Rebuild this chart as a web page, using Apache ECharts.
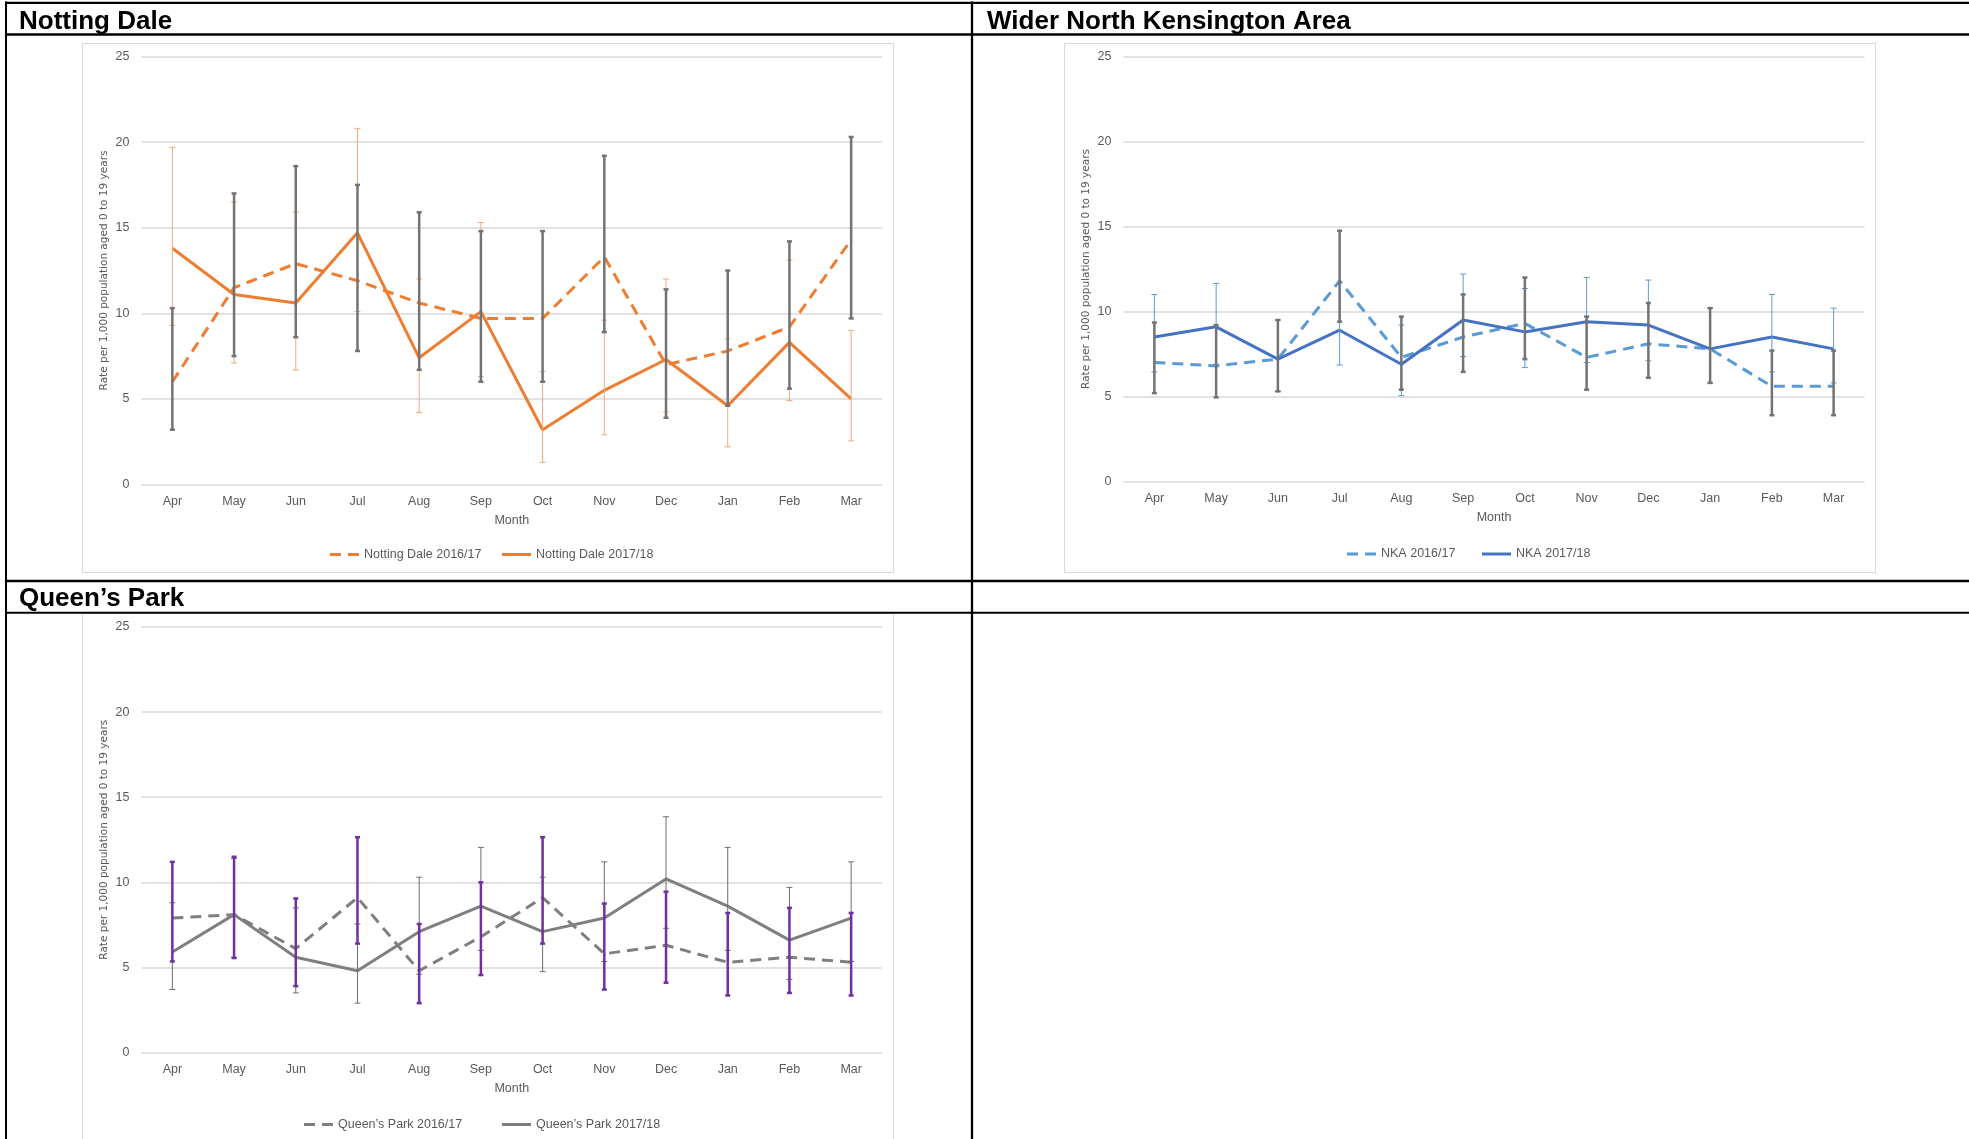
<!DOCTYPE html>
<html>
<head>
<meta charset="utf-8">
<script src="https://cdn.jsdelivr.net/npm/echarts@6/dist/echarts.min.js"></script>
<style>
html,body{margin:0;padding:0;background:#fff;}
#c{width:1969px;height:1139px;}
</style>
</head>
<body>
<div id="c"></div>
<script>
// ---------- DATA ----------
const months = ['Apr','May','Jun','Jul','Aug','Sep','Oct','Nov','Dec','Jan','Feb','Mar'];
const yTicks = [0, 5, 10, 15, 20, 25];

// Notting Dale
const nd1617     = [6.0, 11.5, 12.9, 11.9, 10.6, 9.7, 9.7, 13.3, 7.0, 7.8, 9.2, 14.3];
const nd1617Low  = [3.2, 7.5, 8.6, 7.8, 6.7, 6.0, 6.0, 8.9, 3.9, 4.6, 5.6, 9.7];
const nd1617High = [10.3, 17.0, 18.6, 17.5, 15.9, 14.8, 14.8, 19.2, 11.4, 12.5, 14.2, 20.3];
const nd1718     = [13.8, 11.1, 10.6, 14.7, 7.4, 10.1, 3.2, 5.5, 7.3, 4.6, 8.3, 5.0];
const nd1718Low  = [9.3, 7.1, 6.7, 10.1, 4.2, 6.3, 1.3, 2.9, 4.25, 2.2, 4.9, 2.55];
const nd1718High = [19.7, 16.5, 15.9, 20.8, 12.0, 15.3, 6.6, 9.6, 12.0, 8.5, 13.1, 9.0];

// Wider North Kensington Area
const nka1617     = [7.0, 6.8, 7.2, 11.8, 7.3, 8.5, 9.3, 7.3, 8.1, 7.8, 5.6, 5.6];
const nka1617Low  = [5.2, 4.95, 5.3, 9.4, 5.4, 6.45, 7.2, 5.4, 6.1, 5.8, 3.9, 3.9];
const nka1617High = [9.35, 9.2, 9.5, 14.75, 9.7, 11.0, 12.0, 9.7, 10.5, 10.2, 7.7, 7.7];
const nka1718     = [8.5, 9.1, 7.2, 8.9, 6.9, 9.5, 8.8, 9.4, 9.2, 7.8, 8.5, 7.8];
const nka1718Low  = [6.45, 6.9, 5.3, 6.85, 5.05, 7.35, 6.7, 7.0, 7.1, 5.8, 6.45, 5.8];
const nka1718High = [11.0, 11.65, 9.5, 11.7, 9.2, 12.2, 11.35, 12.0, 11.85, 10.2, 11.0, 10.2];

// Queen's Park
const qp1617     = [7.9, 8.1, 6.1, 9.1, 4.8, 6.8, 9.1, 5.8, 6.3, 5.3, 5.6, 5.3];
const qp1617Low  = [5.35, 5.55, 3.9, 6.4, 2.9, 4.55, 6.4, 3.7, 4.1, 3.35, 3.5, 3.35];
const qp1617High = [11.2, 11.5, 9.05, 12.65, 7.55, 10.0, 12.65, 8.75, 9.45, 8.2, 8.5, 8.2];
const qp1718     = [5.9, 8.1, 5.6, 4.8, 7.1, 8.6, 7.1, 7.9, 10.2, 8.6, 6.6, 7.9];
const qp1718Low  = [3.7, 5.6, 3.5, 2.9, 4.6, 6.0, 4.75, 5.35, 7.3, 6.0, 4.3, 5.35];
const qp1718High = [8.8, 11.4, 8.5, 7.55, 10.3, 12.05, 10.3, 11.2, 13.85, 12.05, 9.7, 11.2];

const panelTitles = ['Notting Dale', 'Wider North Kensington Area', 'Queen\u2019s Park'];
const seriesNames = [
  ['Notting Dale 2016/17', 'Notting Dale 2017/18'],
  ['NKA 2016/17', 'NKA 2017/18'],
  ['Queen\u2019s Park 2016/17', 'Queen\u2019s Park 2017/18']
];
const xName = 'Month';
const yName = 'Rate per 1,000 population aged 0 to 19 years';

// ---------- STYLE / LAYOUT ----------
const FONT = '"Liberation Sans", Arial, sans-serif';
const TXT = '#595959';
const DASH = [11, 7];
const ICON_DASH = 'path://M0,0h11v3h-11z M18,0h11v3h-11z';
const ICON_SOLID = 'path://M0,0h29v3h-29z';

const grids = [
  {left: 141.5, top: 56.5, width: 740.5, height: 428},
  {left: 1123.5, top: 56.5, width: 741, height: 425},
  {left: 141.5, top: 627, width: 740.5, height: 425.5}
];

function xAxis(gi) {
  return {
    type: 'category', gridIndex: gi, data: months, boundaryGap: true,
    axisLine: {show: false}, axisTick: {show: false}, splitLine: {show: false},
    axisLabel: {color: TXT, fontSize: 12.5, fontFamily: FONT, margin: 11},
    name: xName, nameLocation: 'middle', nameGap: 30,
    nameTextStyle: {color: TXT, fontSize: 12.5, fontFamily: FONT}
  };
}
function yAxis(gi) {
  return {
    type: 'value', gridIndex: gi, min: yTicks[0], max: yTicks[yTicks.length - 1], interval: yTicks[1] - yTicks[0],
    axisLine: {show: false}, axisTick: {show: false},
    splitLine: {lineStyle: {color: '#D9D9D9', width: 1.5}},
    axisLabel: {color: TXT, fontSize: 12.5, fontFamily: FONT, margin: 12},
    name: yName, nameLocation: 'middle', nameGap: 31.5,
    nameTextStyle: {color: TXT, fontSize: 10.5, fontFamily: '"DejaVu Sans", sans-serif'}
  };
}

function lineSeries(name, gi, data, color, dashed) {
  return {
    type: 'line', name: name, xAxisIndex: gi, yAxisIndex: gi, data: data,
    symbol: 'none', showSymbol: false, silent: true, z: 2,
    lineStyle: {color: color, width: 3, type: dashed ? DASH : 'solid'},
    itemStyle: {color: color}
  };
}

function errSeries(gi, low, high, color, width, capHalf, z) {
  return {
    type: 'custom', xAxisIndex: gi, yAxisIndex: gi, silent: true, z: z,
    data: low.map((l, i) => [i, l, high[i]]),
    encode: {x: 0, y: [1, 2]},
    renderItem: function (params, api) {
      const i = api.value(0);
      const p1 = api.coord([i, api.value(1)]);
      const p2 = api.coord([i, api.value(2)]);
      const st = {stroke: color, lineWidth: width, fill: null};
      return {
        type: 'group', children: [
          {type: 'line', shape: {x1: p1[0], y1: p1[1], x2: p2[0], y2: p2[1]}, style: st},
          {type: 'line', shape: {x1: p1[0] - capHalf, y1: p1[1], x2: p1[0] + capHalf, y2: p1[1]}, style: st},
          {type: 'line', shape: {x1: p2[0] - capHalf, y1: p2[1], x2: p2[0] + capHalf, y2: p2[1]}, style: st}
        ]
      };
    }
  };
}

function legendItem(name, left, cy, dashed) {
  return {
    data: [{name: name, icon: dashed ? ICON_DASH : ICON_SOLID}],
    left: left, top: cy - 5, padding: 0,
    itemWidth: 29, itemHeight: 3, selectedMode: false,
    itemStyle: {borderWidth: 0},
    textStyle: {color: TXT, fontSize: 12.5, fontFamily: FONT}
  };
}

const series = [
  // Notting Dale
  lineSeries(seriesNames[0][0], 0, nd1617, '#ED7D31', true),
  lineSeries(seriesNames[0][1], 0, nd1718, '#ED7D31', false),
  errSeries(0, nd1617Low, nd1617High, '#737373', 2.5, 2.5, 5),
  errSeries(0, nd1718Low, nd1718High, '#F3A879', 1, 3, 4),
  // NKA
  lineSeries(seriesNames[1][0], 1, nka1617, '#5B9BD5', true),
  lineSeries(seriesNames[1][1], 1, nka1718, '#4472C4', false),
  errSeries(1, nka1617Low, nka1617High, '#737373', 2.5, 2.5, 5),
  errSeries(1, nka1718Low, nka1718High, '#5B9BD5', 1, 3, 4),
  // Queen's Park
  lineSeries(seriesNames[2][0], 2, qp1617, '#7F7F7F', true),
  lineSeries(seriesNames[2][1], 2, qp1718, '#7F7F7F', false),
  errSeries(2, qp1617Low, qp1617High, '#7030A0', 2.5, 2.5, 5),
  errSeries(2, qp1718Low, qp1718High, '#6E6E6E', 1, 3, 4)
];

// table + chart frames + headers
const BLACK = '#000';
function hline(y, w) { return {type: 'line', z: 100, shape: {x1: 5, y1: y, x2: 1969, y2: y}, style: {stroke: BLACK, lineWidth: w}}; }
function vline(x, w) { return {type: 'line', z: 100, shape: {x1: x, y1: 1.6, x2: x, y2: 1139}, style: {stroke: BLACK, lineWidth: w}}; }
function frame(x, y, w, h) { return {type: 'rect', z: -1, shape: {x: x, y: y, width: w, height: h}, style: {stroke: '#D9D9D9', lineWidth: 1, fill: null}}; }
function header(text, x, y) {
  return {type: 'text', z: 100, x: x, y: y, style: {text: text, font: 'bold 26px "Liberation Sans", Arial, sans-serif', fill: '#000', textAlign: 'left', textVerticalAlign: 'middle', verticalAlign: 'middle'}};
}

const graphic = [
  frame(82.5, 43.5, 811, 529),
  frame(1064.5, 43.5, 811, 529),
  frame(82.5, 613.5, 811, 560),
  hline(2.8, 2.3), hline(34.5, 2.3), hline(581, 2.5), hline(612.7, 2),
  vline(6, 2), vline(972, 2.3),
  header(panelTitles[0], 19, 21.5),
  header(panelTitles[1], 987, 21.5),
  header(panelTitles[2], 19, 599)
];

const chart = echarts.init(document.getElementById('c'), null, {renderer: 'canvas', width: 1969, height: 1139});
chart.setOption({
  backgroundColor: '#fff',
  animation: false,
  grid: grids.map(g => Object.assign({outerBoundsMode: 'none', containLabel: false}, g)),
  xAxis: [xAxis(0), xAxis(1), xAxis(2)],
  yAxis: [yAxis(0), yAxis(1), yAxis(2)],
  legend: [
    legendItem(seriesNames[0][0], 330, 553, true),
    legendItem(seriesNames[0][1], 502, 553, false),
    legendItem(seriesNames[1][0], 1347, 552.5, true),
    legendItem(seriesNames[1][1], 1482, 552.5, false),
    legendItem(seriesNames[2][0], 304, 1123, true),
    legendItem(seriesNames[2][1], 502, 1123, false)
  ],
  series: series,
  graphic: {elements: graphic}
});
</script>
</body>
</html>
